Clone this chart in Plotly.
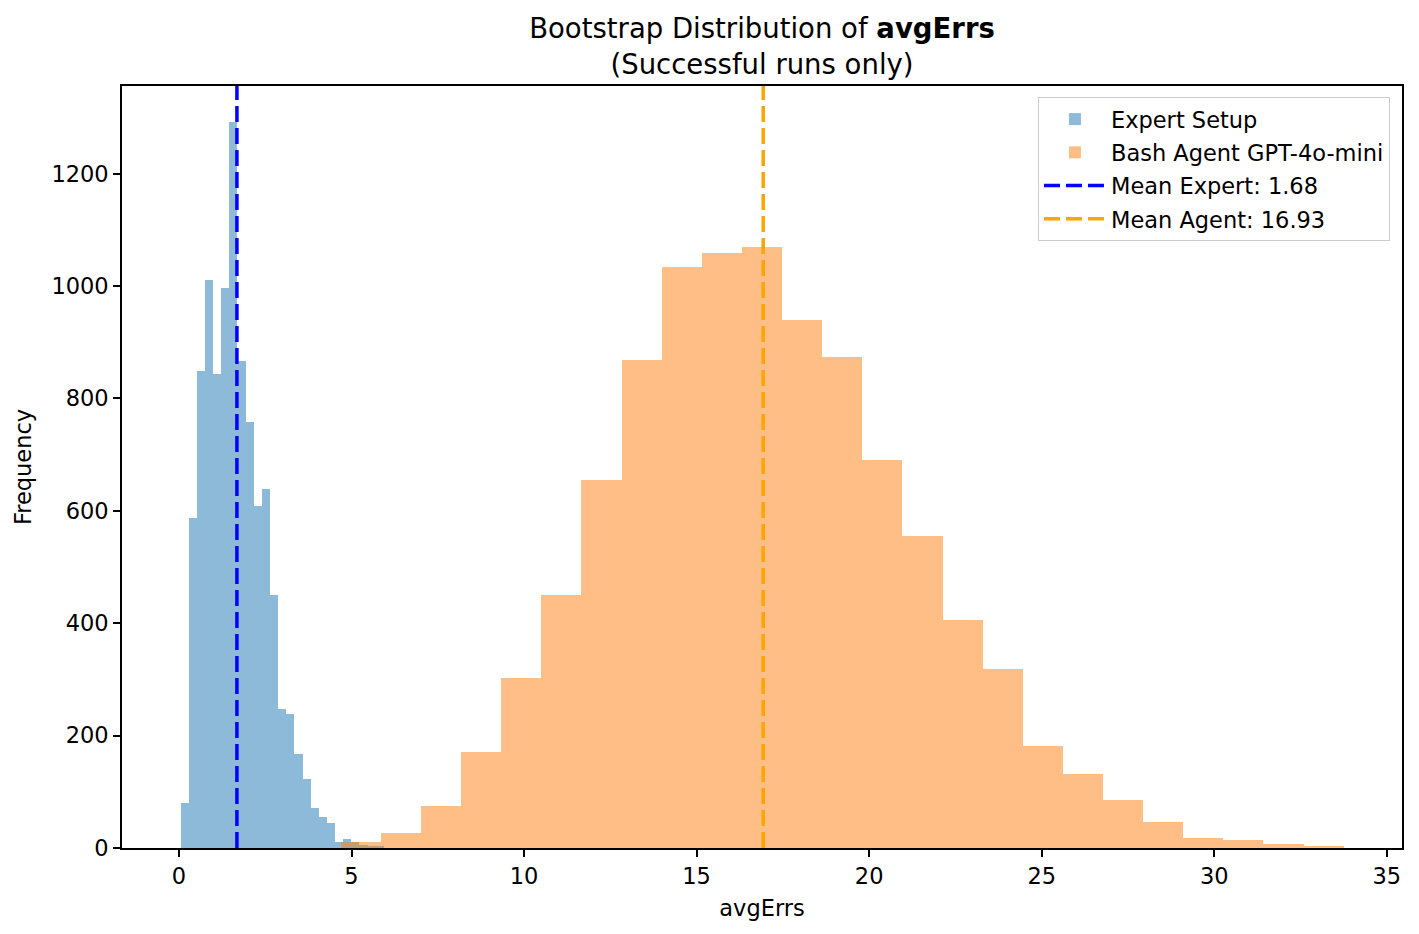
import numpy as np
import plotly.graph_objects as go

# Histogram data (25 bins each)
EXPERT_BIN_START = 0.048
EXPERT_BIN_WIDTH = 0.2355
expert_counts = [80, 588, 849, 1010, 843, 996, 1292, 867, 758, 608, 639, 450, 248,
                 238, 167, 123, 71, 55, 44, 10, 16, 10, 6, 3, 2]

AGENT_BIN_START = 4.69
AGENT_BIN_WIDTH = 1.1624
agent_counts = [11, 26, 74, 170, 303, 451, 654, 868, 1034, 1059, 1069, 939, 873,
                691, 556, 405, 318, 182, 132, 85, 46, 17, 15, 8, 2]

mean_expert = 1.68
mean_agent = 16.93

x_ticks = [0, 5, 10, 15, 20, 25, 30, 35]
y_ticks = [0, 200, 400, 600, 800, 1000, 1200]

FONT = "DejaVu Sans"
FS = 22.5


def bin_centers(start, width, n):
    return start + width * (np.arange(n) + 0.5)


fig = go.Figure()

fig.add_trace(go.Bar(
    x=bin_centers(EXPERT_BIN_START, EXPERT_BIN_WIDTH, len(expert_counts)),
    y=expert_counts,
    width=EXPERT_BIN_WIDTH,
    marker=dict(color="#1f77b4", line=dict(width=0)),
    opacity=0.5,
    name="Expert Setup",
    legendrank=1, legendgroup="g1",
))

fig.add_trace(go.Bar(
    x=bin_centers(AGENT_BIN_START, AGENT_BIN_WIDTH, len(agent_counts)),
    y=agent_counts,
    width=AGENT_BIN_WIDTH,
    marker=dict(color="#ff7f0e", line=dict(width=0)),
    opacity=0.5,
    name="Bash Agent GPT-4o-mini",
    legendrank=2, legendgroup="g2",
))

# mean lines, full axis height
fig.add_shape(type="line", xref="x", yref="y domain", x0=mean_expert, x1=mean_expert,
              y0=0, y1=1, line=dict(color="blue", width=3.5, dash="16px,6px"),
              showlegend=True, name=f"Mean Expert: {mean_expert:.2f}",
              legendrank=3, legendgroup="g3")
fig.add_shape(type="line", xref="x", yref="y domain", x0=mean_agent, x1=mean_agent,
              y0=0, y1=1, line=dict(color="orange", width=3.5, dash="16px,6px"),
              showlegend=True, name=f"Mean Agent: {mean_agent:.2f}",
              legendrank=4, legendgroup="g4")

axis_common = dict(
    showline=True, linecolor="black", linewidth=1.7, mirror=True,
    ticks="outside", ticklen=7, tickwidth=1.7, tickcolor="black",
    showgrid=False, zeroline=False,
    tickfont=dict(family=FONT, size=FS, color="black"),
)

# page body adds an 8px margin, so the figure is 8px smaller than the window
fig.update_layout(
    width=1411, height=926,
    barmode="overlay", bargap=0,
    plot_bgcolor="white", paper_bgcolor="white",
    margin=dict(l=114, r=17, t=78, b=86),
    font=dict(family=FONT, size=FS, color="black"),
    title=dict(
        text="Bootstrap Distribution of <b>avgErrs</b><br>(Successful runs only)",
        x=0.5, xanchor="center", xref="paper",
        y=1 - 30 / 926, yanchor="top", yref="container",
        font=dict(family=FONT, size=27.5, color="black"),
    ),
    xaxis=dict(axis_common, range=[-1.65, 35.44], tickvals=x_ticks,
               title=dict(text="avgErrs", font=dict(family=FONT, size=FS), standoff=12)),
    yaxis=dict(axis_common, range=[0, 1356], tickvals=y_ticks,
               title=dict(text="Frequency", font=dict(family=FONT, size=FS), standoff=14)),
    legend=dict(
        x=0.9906, xanchor="right", y=0.9856, yanchor="top",
        bgcolor="rgba(255,255,255,0.8)", bordercolor="#cccccc", borderwidth=1,
        font=dict(family=FONT, size=FS, color="black"),
        itemwidth=62, tracegroupgap=1,
    ),
)

fig.write_html("out.html")
